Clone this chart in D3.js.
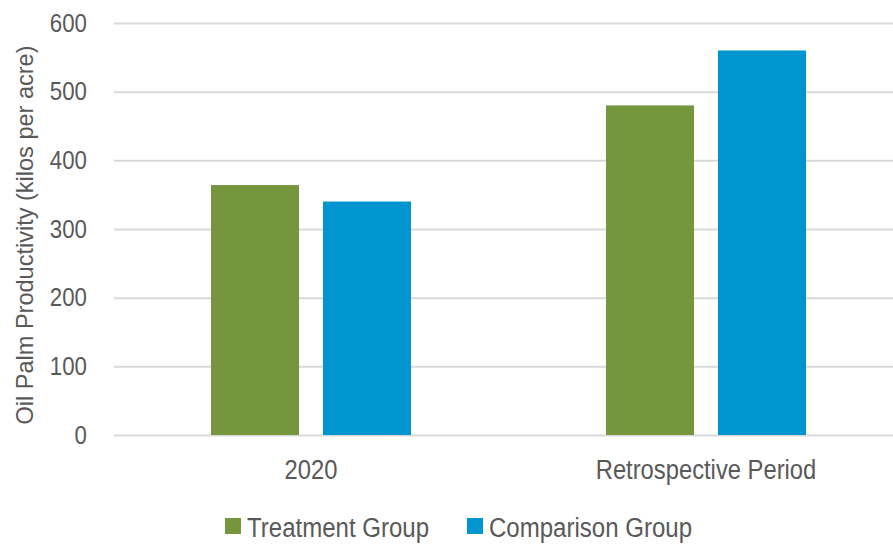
<!DOCTYPE html>
<html>
<head>
<meta charset="utf-8">
<script src="https://cdn.jsdelivr.net/npm/d3@7"></script>
<style>
  body { margin: 0; background: #fff; }
  svg text { fill: #595959; font-family: 'Liberation Sans', Arial, sans-serif; }
</style>
</head>
<body>
<svg width="893" height="548"></svg>
<script>
var categories = ["2020", "Retrospective Period"];
var seriesNames = ["Treatment Group", "Comparison Group"];
var treatment = [364, 480];
var comparison = [340, 560];
var yTicks = [0, 100, 200, 300, 400, 500, 600];
var colors = ["#76963e", "#0095ce"];

var data = categories.map(function (c, i) {
    return { category: c, values: [treatment[i], comparison[i]] };
});

var svg = d3.select("svg");
var width = 893;
var plotLeft = 114, plotRight = 903.5, plotTop = 23, plotBottom = 435;

// the reference text is horizontally condensed; squeeze glyphs to match
function condense(sel, factor) {
    sel.each(function () {
        var w = this.getComputedTextLength();
        d3.select(this)
            .attr("textLength", w * factor)
            .attr("lengthAdjust", "spacingAndGlyphs");
    });
}

var x0 = d3.scaleBand()
    .domain(categories)
    .range([113.5, plotRight])
    .paddingInner(195 / 395)
    .paddingOuter(195 / 395 / 2);

var x1 = d3.scaleBand()
    .domain(seriesNames)
    .range([0, x0.bandwidth()])
    .paddingInner(24 / 112)
    .paddingOuter(0);

var y = d3.scaleLinear().domain([0, 600]).range([plotBottom, plotTop]);

// gridlines + tick labels
var yAxis = svg.append("g")
    .attr("transform", "translate(" + plotLeft + ",0)")
    .call(d3.axisLeft(y).tickValues(yTicks).tickSize(-(width - plotLeft)).tickPadding(27));
yAxis.select(".domain").remove();
yAxis.selectAll(".tick line").attr("stroke", "#d9d9d9").attr("stroke-width", 2);
yAxis.selectAll(".tick text")
    .style("font-family", "'Liberation Sans', Arial, sans-serif")
    .style("font-size", "25px")
    .attr("fill", "#595959")
    .call(condense, 0.89);

// bars
var groups = svg.selectAll(".grp")
    .data(data)
  .enter().append("g")
    .attr("class", "grp")
    .attr("transform", function (d) { return "translate(" + x0(d.category) + ",0)"; });

groups.selectAll("rect")
    .data(function (d) { return d.values.map(function (v, j) { return { key: seriesNames[j], value: v, idx: j }; }); })
  .enter().append("rect")
    .attr("x", function (d) { return x1(d.key); })
    .attr("y", function (d) { return y(d.value); })
    .attr("width", x1.bandwidth())
    .attr("height", function (d) { return plotBottom - y(d.value); })
    .attr("fill", function (d) { return colors[d.idx]; });

// x category labels
var xAxis = svg.append("g")
    .attr("transform", "translate(0," + plotBottom + ")")
    .call(d3.axisBottom(x0).tickSize(0).tickPadding(25));
xAxis.select(".domain").remove();
xAxis.selectAll(".tick text")
    .style("font-family", "'Liberation Sans', Arial, sans-serif")
    .style("font-size", "27px")
    .attr("fill", "#595959")
    .call(condense, 0.88);

// y axis title
svg.append("text")
    .attr("transform", "translate(33,235) rotate(-90)")
    .attr("text-anchor", "middle")
    .style("font-size", "24px")
    .call(function (s) { s.text("Oil Palm Productivity (kilos per acre)"); })
    .call(condense, 0.98);

// legend
var legendX = [225, 467];
var legend = svg.selectAll(".legend")
    .data(seriesNames)
  .enter().append("g")
    .attr("class", "legend")
    .attr("transform", function (d, i) { return "translate(" + legendX[i] + ",518)"; });

legend.append("rect")
    .attr("width", 16)
    .attr("height", 16)
    .attr("fill", function (d, i) { return colors[i]; });

legend.append("text")
    .attr("x", 22)
    .attr("y", 19)
    .style("font-size", "27px")
    .text(function (d) { return d; })
    .call(condense, 0.89);
</script>
</body>
</html>
